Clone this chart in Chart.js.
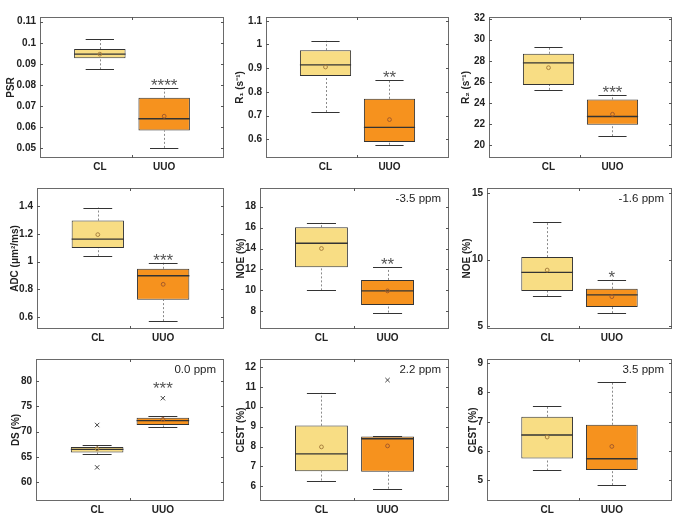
<!DOCTYPE html>
<html>
<head>
<meta charset="utf-8">
<script src="https://cdn.jsdelivr.net/npm/chart.js@4"></script>
<style>
  body { margin: 0; background: #fff; width: 682px; height: 516px; position: relative; overflow: hidden; }
  .panel { position: absolute; }
</style>
</head>
<body>
<script>
const categories = ['CL', 'UUO'];

// box summaries per group: [lower whisker, q1, median, q3, upper whisker]
const psrBoxes = [[0.0874, 0.0927, 0.0946, 0.0970, 0.1018], [0.0502, 0.0584, 0.0640, 0.0740, 0.0785]];
const psrMeans = [0.0946, 0.0652];
const psrTicks = [0.05, 0.06, 0.07, 0.08, 0.09, 0.1, 0.11];

const r1Boxes = [[0.715, 0.867, 0.914, 0.976, 1.016], [0.577, 0.589, 0.650, 0.771, 0.849]];
const r1Means = [0.905, 0.683];
const r1Ticks = [0.6, 0.7, 0.8, 0.9, 1, 1.1];

const r2Boxes = [[25.25, 25.7, 27.8, 28.67, 29.27], [20.86, 21.94, 22.73, 24.35, 24.8]];
const r2Means = [27.35, 22.94];
const r2Ticks = [20, 22, 24, 26, 28, 30, 32];

const adcBoxes = [[1.039, 1.098, 1.163, 1.297, 1.391], [0.57, 0.725, 0.898, 0.948, 0.991]];
const adcMeans = [1.195, 0.836];
const adcTicks = [0.6, 0.8, 1, 1.2, 1.4];

const noe35Boxes = [[10.0, 12.2, 14.5, 16.04, 16.46], [7.88, 8.6, 9.95, 11.0, 12.24]];
const noe35Means = [14.0, 9.95];
const noe35Ticks = [8, 10, 12, 14, 16, 18];

const noe16Boxes = [[7.25, 7.65, 9.05, 10.19, 12.82], [6.0, 6.45, 7.37, 7.82, 8.51]];
const noe16Means = [9.22, 7.23];
const noe16Ticks = [5, 10, 15];

const dsBoxes = [[65.47, 65.84, 66.46, 66.96, 67.33], [70.81, 71.3, 72.17, 72.73, 72.98]];
const dsMeans = [66.6, 72.4];
const dsOutliers = [[71.3, 62.92], [76.6]];
const dsTicks = [60, 65, 70, 75, 80];

const cest22Boxes = [[6.29, 6.76, 7.63, 9.05, 10.7], [5.88, 6.73, 8.39, 8.5, 8.53]];
const cest22Means = [7.98, 8.03];
const cest22Outliers = [[], [11.34]];
const cest22Ticks = [6, 7, 8, 9, 10, 11, 12];

const cest35Boxes = [[5.34, 5.75, 6.55, 7.17, 7.555], [4.84, 5.36, 5.74, 6.9, 8.37]];
const cest35Means = [6.48, 6.16];
const cest35Ticks = [5, 6, 7, 8, 9];

const noOutliers = [[], []];

const boxColors = ['#f8dd84', '#f6921e'];
const meanColors = ['#a8803f', '#a45a2a'];

const panels = [
  { title: 'PSR', boxes: psrBoxes, means: psrMeans, outliers: noOutliers, ticks: psrTicks, yMin: 0.0454, yMax: 0.1122, stars: '****', ppm: '',
    left: 40, top: 9, w: 184, h: 149, titleX: 11 },
  { title: 'R\u2081 (s\u207B\u00B9)', boxes: r1Boxes, means: r1Means, outliers: noOutliers, ticks: r1Ticks, yMin: 0.521, yMax: 1.116, stars: '**', ppm: '',
    left: 266, top: 9, w: 183, h: 149, titleX: 240 },
  { title: 'R\u2082 (s\u207B\u00B9)', boxes: r2Boxes, means: r2Means, outliers: noOutliers, ticks: r2Ticks, yMin: 18.8, yMax: 32.15, stars: '***', ppm: '',
    left: 489, top: 9, w: 183, h: 149, titleX: 466 },
  { title: 'ADC (\u03BCm\u00B2/ms)', boxes: adcBoxes, means: adcMeans, outliers: noOutliers, ticks: adcTicks, yMin: 0.513, yMax: 1.532, stars: '***', ppm: '',
    left: 37, top: 180, w: 187, h: 149, titleX: 15 },
  { title: 'NOE (%)', boxes: noe35Boxes, means: noe35Means, outliers: noOutliers, ticks: noe35Ticks, yMin: 6.31, yMax: 19.78, stars: '**', ppm: '-3.5 ppm',
    left: 260, top: 180, w: 189, h: 149, titleX: 241 },
  { title: 'NOE (%)', boxes: noe16Boxes, means: noe16Means, outliers: noOutliers, ticks: noe16Ticks, yMin: 4.81, yMax: 15.36, stars: '*', ppm: '-1.6 ppm',
    left: 487, top: 180, w: 185, h: 149, titleX: 467 },
  { title: 'DS (%)', boxes: dsBoxes, means: dsMeans, outliers: dsOutliers, ticks: dsTicks, yMin: 56.27, yMax: 84.35, stars: '***', ppm: '0.0 ppm',
    left: 36, top: 351, w: 188, h: 150, titleX: 16 },
  { title: 'CEST (%)', boxes: cest22Boxes, means: cest22Means, outliers: cest22Outliers, ticks: cest22Ticks, yMin: 5.26, yMax: 12.4, stars: '', ppm: '2.2 ppm',
    left: 260, top: 351, w: 189, h: 150, titleX: 241 },
  { title: 'CEST (%)', boxes: cest35Boxes, means: cest35Means, outliers: noOutliers, ticks: cest35Ticks, yMin: 4.30, yMax: 9.14, stars: '', ppm: '3.5 ppm',
    left: 487, top: 351, w: 185, h: 150, titleX: 473 }
];

Chart.defaults.font.family = "'Liberation Sans', Arial, sans-serif";
Chart.defaults.color = '#222';

function seg(ctx, x1, y1, x2, y2) {
  ctx.beginPath();
  ctx.moveTo(x1, y1);
  ctx.lineTo(x2, y2);
  ctx.stroke();
}

// whiskers, medians, means, outliers, frame and inner ticks
const boxExtras = {
  id: 'boxExtras',
  beforeDatasetsDraw(chart, args, opts) {
    const { ctx, scales: { x, y } } = chart;
    const p = opts.panel;
    ctx.save();
    ctx.strokeStyle = '#8a8a8a';
    ctx.lineWidth = 1;
    ctx.setLineDash([2, 2]);
    p.boxes.forEach((b, i) => {
      const cx = Math.round(x.getPixelForValue(i + 1)) + 0.5;
      seg(ctx, cx, y.getPixelForValue(b[3]), cx, y.getPixelForValue(b[4]));
      seg(ctx, cx, y.getPixelForValue(b[0]), cx, y.getPixelForValue(b[1]));
    });
    ctx.restore();
  },
  afterDatasetsDraw(chart, args, opts) {
    const { ctx, chartArea: a, scales: { x, y } } = chart;
    const p = opts.panel;
    const unit = x.getPixelForValue(2) - x.getPixelForValue(1);
    ctx.save();
    p.boxes.forEach((b, i) => {
      const cx = x.getPixelForValue(i + 1);
      const capW = unit * 0.22;
      const boxW = unit * 0.4;
      ctx.strokeStyle = '#333';
      ctx.lineWidth = 1;
      const yMaxPx = Math.round(y.getPixelForValue(b[4])) + 0.5;
      const yMinPx = Math.round(y.getPixelForValue(b[0])) + 0.5;
      seg(ctx, cx - capW, yMaxPx, cx + capW, yMaxPx);
      seg(ctx, cx - capW, yMinPx, cx + capW, yMinPx);
      ctx.lineWidth = 1.3;
      const med = y.getPixelForValue(b[2]);
      seg(ctx, cx - boxW, med, cx + boxW, med);
      // mean
      ctx.lineWidth = 1;
      ctx.strokeStyle = meanColors[i];
      ctx.beginPath();
      ctx.arc(cx, y.getPixelForValue(p.means[i]), 1.9, 0, Math.PI * 2);
      ctx.stroke();
      // outliers
      ctx.strokeStyle = '#444';
      p.outliers[i].forEach(v => {
        const oy = y.getPixelForValue(v);
        seg(ctx, cx - 2.2, oy - 2.2, cx + 2.2, oy + 2.2);
        seg(ctx, cx - 2.2, oy + 2.2, cx + 2.2, oy - 2.2);
      });
    });
    // significance stars above UUO
    if (p.stars) {
      const whiskerTop = p.boxes[1][4];
      const outlierTop = Math.max(-Infinity, ...p.outliers[1]);
      const topPx = outlierTop > whiskerTop
        ? y.getPixelForValue(outlierTop) - 4
        : y.getPixelForValue(whiskerTop) + 3;
      ctx.fillStyle = '#555';
      ctx.font = "17px 'Liberation Sans', Arial, sans-serif";
      ctx.textAlign = 'center';
      ctx.textBaseline = 'alphabetic';
      ctx.fillText(p.stars, x.getPixelForValue(2), topPx);
    }
    if (p.ppm) {
      ctx.fillStyle = '#222';
      ctx.font = "11.5px 'Liberation Sans', Arial, sans-serif";
      ctx.textAlign = 'right';
      ctx.textBaseline = 'middle';
      ctx.fillText(p.ppm, a.right - 8, a.top + 11);
    }
    // frame
    ctx.strokeStyle = '#6a6a6a';
    ctx.lineWidth = 1;
    ctx.strokeRect(a.left + 0.5, a.top + 0.5, a.right - a.left - 1, a.bottom - a.top - 1);
    // inner tick marks
    ctx.strokeStyle = '#555';
    y.ticks.forEach(t => {
      const ty = Math.round(y.getPixelForValue(t.value)) + 0.5;
      seg(ctx, a.left, ty, a.left + 3, ty);
      seg(ctx, a.right - 3, ty, a.right, ty);
    });
    const mx = Math.round(x.getPixelForValue(1.5)) + 0.5;
    seg(ctx, mx, a.top, mx, a.top + 3);
    seg(ctx, mx, a.bottom - 3, mx, a.bottom);
    ctx.restore();
  }
};

const padTop = 2;
const padRight = 4;
const xAxisH = 18;

panels.forEach(p => {
  const yAxisW = p.left - (p.titleX - 6);
  const div = document.createElement('div');
  div.className = 'panel';
  div.style.left = (p.titleX - 6) + 'px';
  div.style.top = (p.top - padTop) + 'px';
  div.style.width = (yAxisW + p.w + padRight) + 'px';
  div.style.height = (padTop + p.h + xAxisH) + 'px';
  const canvas = document.createElement('canvas');
  div.appendChild(canvas);
  document.body.appendChild(div);

  new Chart(canvas, {
    type: 'bar',
    data: {
      datasets: [{
        data: p.boxes.map((b, i) => ({ x: i + 1, y: [b[1], b[3]] })),
        backgroundColor: boxColors,
        borderColor: '#333',
        borderWidth: 1,
        borderSkipped: false,
        barPercentage: 1,
        categoryPercentage: 0.8
      }]
    },
    options: {
      responsive: true,
      maintainAspectRatio: false,
      animation: false,
      events: [],
      layout: { padding: { top: padTop, right: padRight, left: 0, bottom: 0 } },
      plugins: {
        legend: { display: false },
        tooltip: { enabled: false },
        boxExtras: { panel: p }
      },
      scales: {
        x: {
          type: 'linear',
          min: 0.07,
          max: 2.93,
          offset: false,
          grid: { display: false, drawTicks: false },
          border: { display: false },
          afterBuildTicks: s => { s.ticks = categories.map((c, i) => ({ value: i + 1 })); },
          afterFit: s => { s.height = xAxisH; },
          ticks: {
            callback: v => categories[v - 1],
            font: { weight: 'bold', size: 10 },
            color: '#222',
            padding: 3,
            maxRotation: 0,
            autoSkip: false
          }
        },
        y: {
          min: p.yMin,
          max: p.yMax,
          grid: { display: false, drawTicks: false },
          border: { display: false },
          afterBuildTicks: s => { s.ticks = p.ticks.map(v => ({ value: v })); },
          afterFit: s => { s.width = yAxisW; },
          ticks: {
            callback: v => String(+v.toFixed(4)),
            font: { weight: 'bold', size: 10 },
            color: '#222',
            padding: 4,
            autoSkip: false
          },
          title: {
            display: true,
            text: p.title,
            font: { weight: 'bold', size: 10 },
            color: '#222',
            padding: 0
          }
        }
      }
    },
    plugins: [boxExtras]
  });
});
</script>
</body>
</html>
